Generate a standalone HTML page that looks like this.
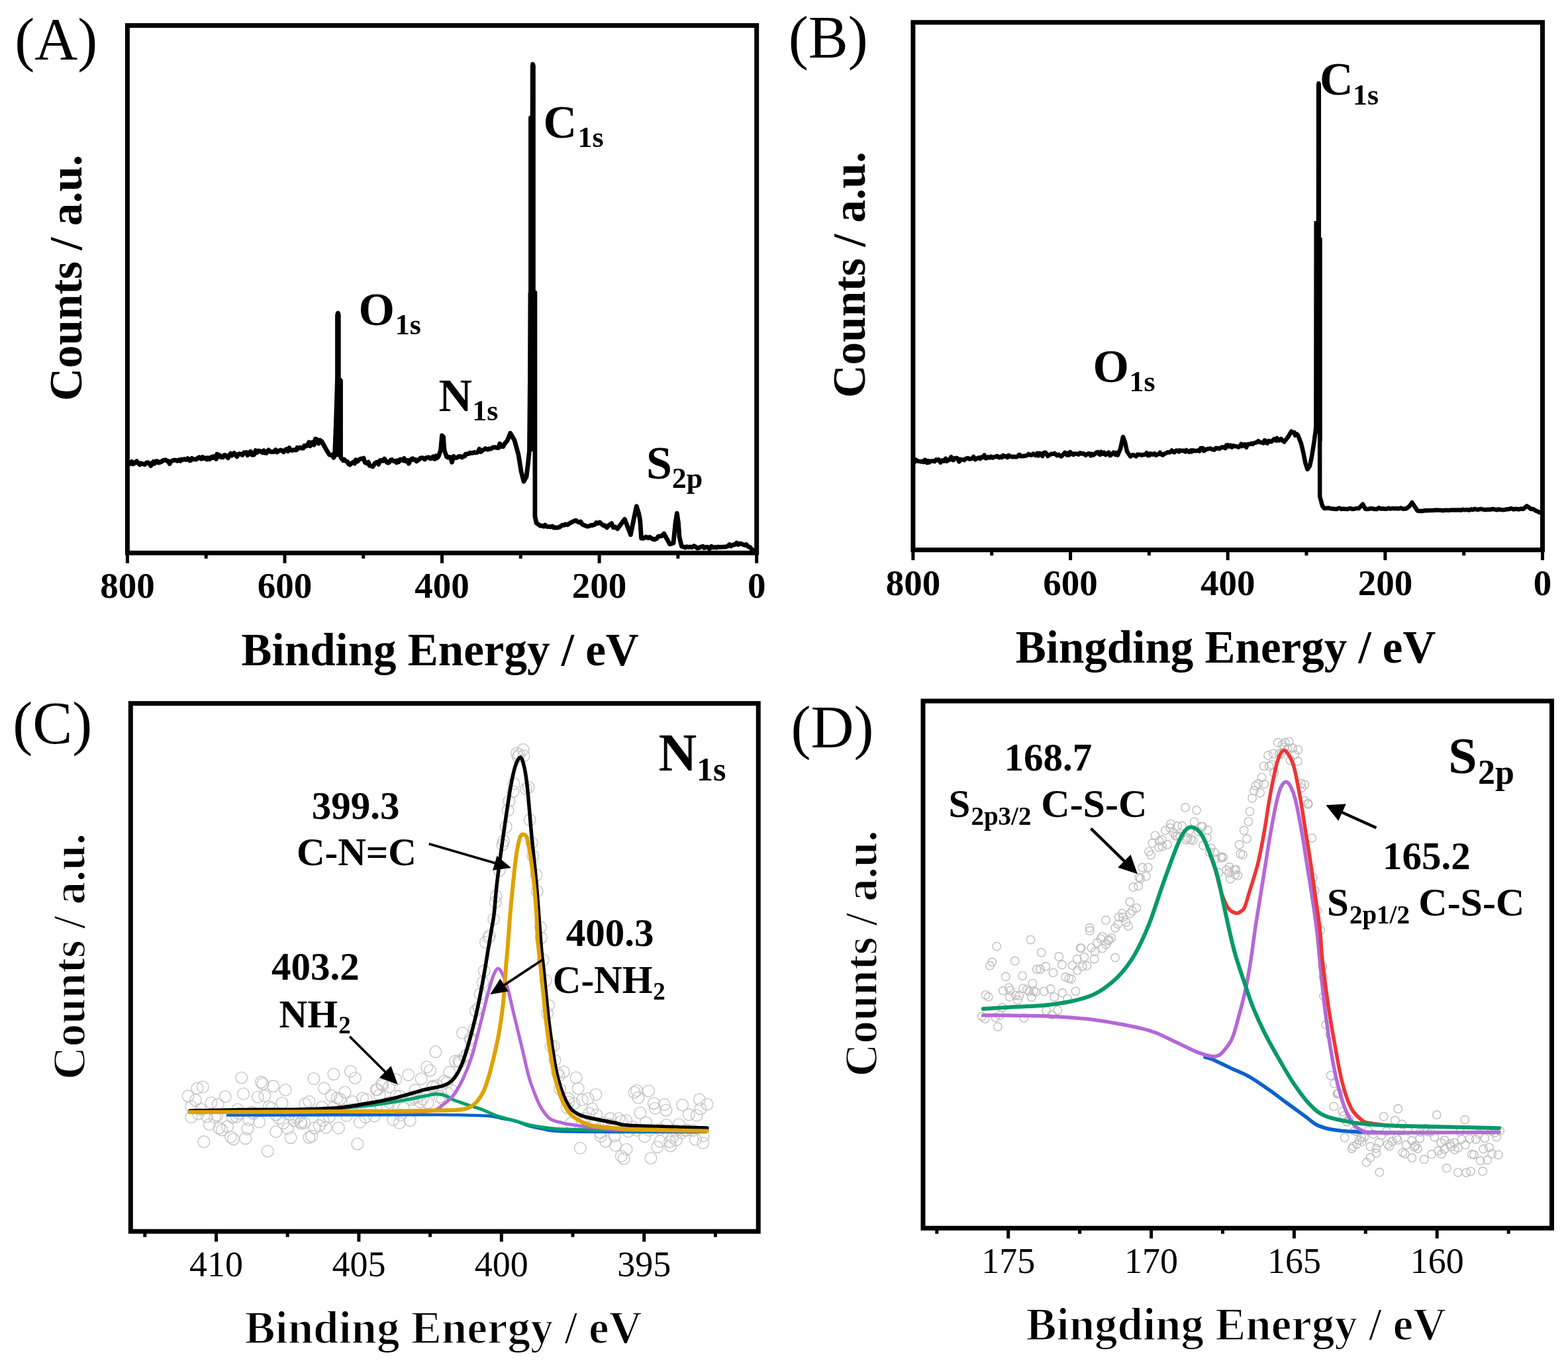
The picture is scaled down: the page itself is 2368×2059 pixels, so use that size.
<!DOCTYPE html>
<html><head><meta charset="utf-8"><title>XPS spectra</title>
<style>html,body{margin:0;padding:0;background:#fff;}svg{display:block;}</style></head>
<body><svg xmlns="http://www.w3.org/2000/svg" width="2368" height="2059" viewBox="0 0 2368 2059" font-family="Liberation Serif, Times New Roman, serif" fill="#000">
<rect width="2368" height="2059" fill="#fff"/>
<rect x="192.4" y="38.5" width="950.3" height="796.8" fill="none" stroke="#000" stroke-width="7"/>
<line x1="192.4" y1="835.3" x2="192.4" y2="850.8" stroke="#000" stroke-width="5"/>
<line x1="430.0" y1="835.3" x2="430.0" y2="850.8" stroke="#000" stroke-width="5"/>
<line x1="667.5" y1="835.3" x2="667.5" y2="850.8" stroke="#000" stroke-width="5"/>
<line x1="905.1" y1="835.3" x2="905.1" y2="850.8" stroke="#000" stroke-width="5"/>
<line x1="1142.7" y1="835.3" x2="1142.7" y2="850.8" stroke="#000" stroke-width="5"/>
<line x1="311.2" y1="835.3" x2="311.2" y2="843.8" stroke="#000" stroke-width="5"/>
<line x1="548.8" y1="835.3" x2="548.8" y2="843.8" stroke="#000" stroke-width="5"/>
<line x1="786.3" y1="835.3" x2="786.3" y2="843.8" stroke="#000" stroke-width="5"/>
<line x1="1023.9" y1="835.3" x2="1023.9" y2="843.8" stroke="#000" stroke-width="5"/>
<text x="192.4" y="903.0" font-size="55" font-weight="bold" text-anchor="middle" >800</text>
<text x="430.0" y="903.0" font-size="55" font-weight="bold" text-anchor="middle" >600</text>
<text x="667.5" y="903.0" font-size="55" font-weight="bold" text-anchor="middle" >400</text>
<text x="905.1" y="903.0" font-size="55" font-weight="bold" text-anchor="middle" >200</text>
<text x="1142.7" y="903.0" font-size="55" font-weight="bold" text-anchor="middle" >0</text>
<text x="22.3" y="89.5" font-size="90" font-weight="normal" text-anchor="start" >(A)</text>
<text transform="translate(123.2,605.8) rotate(-90)" font-size="69" font-weight="bold">Counts / a.u.</text>
<text x="364.6" y="1004.9" font-size="69" font-weight="bold" text-anchor="start" >Binding Energy / eV</text>
<text x="820.4" y="207.5" font-size="70" font-weight="bold" text-anchor="start" >C</text>
<text x="872.4" y="222.3" font-size="44" font-weight="bold" text-anchor="start" >1s</text>
<text x="541.4" y="491.0" font-size="70" font-weight="bold" text-anchor="start" >O</text>
<text x="596.7" y="505.4" font-size="44" font-weight="bold" text-anchor="start" >1s</text>
<text x="662.6" y="621.2" font-size="70" font-weight="bold" text-anchor="start" >N</text>
<text x="713.2" y="635.4" font-size="44" font-weight="bold" text-anchor="start" >1s</text>
<text x="976.0" y="723.0" font-size="70" font-weight="bold" text-anchor="start" >S</text>
<text x="1014.7" y="737.4" font-size="44" font-weight="bold" text-anchor="start" >2p</text>
<path d="M194.5,701.0 L196.7,700.7 L199.1,697.3 L200.9,700.9 L202.7,700.1 L205.3,697.7 L206.4,696.7 L208.8,699.9 L211.0,702.0 L212.4,699.8 L215.5,700.8 L217.4,701.0 L218.7,701.8 L221.3,698.9 L223.7,698.7 L225.0,699.6 L227.8,703.6 L229.2,700.4 L231.7,697.4 L233.2,700.5 L236.1,696.6 L238.1,696.9 L239.3,699.0 L241.3,698.6 L243.9,697.6 L245.2,696.0 L247.7,695.1 L250.3,694.8 L252.0,696.3 L254.0,696.3 L256.2,700.8 L257.4,697.7 L260.3,695.9 L262.3,695.2 L263.8,695.2 L265.5,695.1 L267.6,696.3 L270.3,694.6 L272.5,696.4 L273.8,694.0 L276.0,694.6 L278.3,693.4 L280.4,694.5 L282.5,693.6 L283.5,692.5 L286.5,695.9 L287.8,695.7 L289.8,692.3 L291.8,693.6 L293.6,693.8 L296.2,694.1 L297.5,692.8 L300.6,690.8 L301.7,692.1 L304.1,693.3 L305.9,690.3 L307.5,692.5 L310.0,691.7 L312.4,693.9 L314.0,691.6 L316.5,693.7 L318.2,691.4 L319.9,690.1 L321.6,691.7 L323.9,689.3 L326.6,693.5 L327.9,686.0 L330.0,689.7 L331.7,687.6 L333.9,690.7 L336.6,690.9 L338.6,687.6 L339.8,687.4 L341.5,688.3 L344.4,691.9 L345.8,689.1 L348.2,685.0 L350.2,688.1 L352.2,686.0 L353.7,684.4 L356.2,687.7 L357.8,689.8 L360.1,686.1 L361.4,685.4 L364.2,686.2 L366.0,687.5 L368.4,683.7 L369.8,684.1 L372.4,683.4 L373.8,687.7 L376.0,685.4 L378.2,682.0 L380.6,687.2 L382.1,684.2 L383.7,686.9 L386.0,680.6 L388.3,683.6 L389.7,681.0 L392.4,681.3 L394.0,682.2 L396.3,683.8 L398.4,680.5 L399.6,684.1 L402.3,684.5 L403.8,681.5 L405.6,679.9 L408.2,682.3 L409.8,682.6 L412.0,682.3 L413.7,682.7 L416.2,679.5 L418.4,683.0 L420.0,681.1 L422.2,680.8 L424.0,679.8 L426.7,680.9 L428.2,682.8 L429.9,680.6 L432.4,678.5 L434.9,681.7 L436.8,676.4 L438.4,679.2 L440.7,680.4 L442.5,679.9 L444.9,679.8 L447.5,679.9 L448.9,676.3 L451.7,677.3 L453.5,675.9 L455.7,677.1 L458.2,677.0 L459.7,673.2 L462.0,674.0 L463.7,673.4 L466.6,668.1 L468.5,673.7 L470.1,668.9 L472.0,668.0 L474.3,672.0 L476.4,663.0 L478.8,664.0 L481.2,670.0 L483.3,665.0 L486.0,667.0 L492.0,678.0 L497.5,687.0 L499.6,687.5 L501.4,686.9 L503.9,691.3 L505.5,688.5 L507.4,641.0 L509.5,571.0 L509.5,476.0 L510.4,473.0 L511.3,476.0 L511.3,571.6 L514.5,575.0 L514.5,690.0 L516.0,693.2 L518.4,695.6 L519.9,694.2 L521.7,696.5 L524.6,697.2 L526.3,700.7 L528.5,702.0 L531.2,699.5 L533.4,698.0 L535.6,700.2 L537.3,694.8 L540.0,697.0 L542.1,694.5 L545.0,692.9 L547.0,693.0 L549.1,692.0 L551.2,698.7 L554.0,700.0 L556.3,698.1 L558.2,703.5 L561.0,704.0 L563.0,705.0 L566.0,699.9 L567.9,698.8 L570.0,698.0 L571.8,701.4 L574.0,695.4 L576.2,695.6 L578.0,696.3 L580.6,693.0 L581.5,694.5 L583.9,698.1 L586.3,699.3 L588.2,698.0 L589.8,695.0 L591.9,694.4 L594.3,696.6 L596.8,696.7 L598.7,698.9 L599.9,695.8 L602.3,697.6 L604.3,693.9 L606.5,694.6 L609.3,695.9 L610.2,692.4 L612.6,696.6 L615.4,695.2 L617.3,700.3 L619.1,696.5 L621.3,693.5 L623.3,692.6 L625.0,694.7 L627.3,694.2 L629.0,696.9 L630.9,695.5 L633.2,693.9 L634.7,692.3 L636.9,691.6 L639.1,691.9 L641.4,693.9 L643.4,691.7 L646.0,690.9 L647.6,690.9 L649.6,692.7 L651.5,692.7 L654.1,689.8 L656.4,693.3 L658.4,688.7 L659.7,692.1 L662.0,690.0 L665.5,680.0 L667.5,658.0 L669.5,660.0 L671.0,680.0 L674.5,690.0 L676.3,691.2 L678.9,690.3 L680.3,690.9 L682.5,698.2 L685.1,689.3 L687.0,691.6 L689.1,691.6 L690.8,691.0 L692.9,689.3 L694.7,689.3 L697.8,691.0 L699.3,689.6 L702.1,689.0 L703.0,686.1 L705.8,685.7 L707.5,685.7 L709.9,683.9 L712.3,684.5 L713.3,684.4 L716.5,683.2 L718.0,683.9 L720.6,683.5 L722.2,682.3 L723.9,678.4 L726.1,682.5 L728.7,680.6 L729.9,679.7 L733.0,677.5 L734.9,678.4 L736.2,679.1 L738.7,677.9 L741.2,678.1 L742.8,677.2 L744.6,675.8 L746.3,675.7 L749.0,676.0 L751.0,676.5 L753.0,676.5 L754.8,670.2 L757.1,674.3 L759.9,674.6 L761.4,671.4 L763.3,668.9 L766.0,666.0 L770.7,654.3 L777.0,665.2 L783.0,687.0 L787.0,712.0 L791.0,727.3 L795.0,720.0 L797.5,700.0 L799.5,680.0 L801.5,442.0 L801.5,178.0 L804.2,178.0 L804.2,100.0 L804.7,97.0 L805.2,100.0 L805.2,442.0 L807.9,442.0 L807.9,780.0 L810.0,790.0 L815.9,794.3 L818.4,794.2 L821.5,795.3 L823.1,793.1 L825.8,795.5 L828.9,795.6 L831.3,795.9 L834.3,794.9 L836.2,797.2 L839.2,797.0 L841.4,797.2 L844.7,796.3 L846.9,795.0 L849.6,793.1 L851.8,793.4 L853.9,792.0 L857.2,792.8 L859.4,791.0 L861.7,789.7 L864.4,788.5 L867.7,786.6 L869.8,786.2 L872.8,788.4 L874.9,789.1 L876.9,788.1 L879.6,792.3 L882.7,793.6 L885.6,794.8 L887.7,795.2 L889.9,794.7 L892.9,793.4 L894.8,793.5 L898.5,792.2 L900.5,789.6 L902.6,790.7 L905.7,788.9 L908.5,791.6 L911.6,794.2 L913.2,793.7 L916.4,797.0 L919.6,793.4 L923.6,790.7 L926.3,796.9 L929.1,796.0 L932.6,798.8 L943.4,784.4 L952.4,807.8 L958.0,780.0 L961.3,764.7 L964.5,775.0 L966.7,786.2 L968.5,813.1 L971.3,813.4 L973.7,812.2 L975.5,811.0 L978.7,812.8 L981.1,811.3 L985.0,813.9 L988.3,815.0 L991.6,813.7 L994.1,810.4 L997.5,809.9 L999.8,809.6 L1002.6,806.0 L1011.6,822.1 L1014.1,821.4 L1017.0,820.3 L1020.0,790.0 L1022.4,775.4 L1024.5,790.0 L1026.0,811.3 L1029.5,825.5 L1032.1,826.0 L1034.7,827.1 L1037.1,825.9 L1040.3,826.5 L1043.3,826.2 L1045.0,826.8 L1048.1,824.7 L1051.0,826.5 L1053.3,828.1 L1055.7,827.4 L1058.5,826.2 L1061.7,825.4 L1063.4,827.5 L1066.9,826.4 L1069.6,826.7 L1071.3,829.1 L1074.4,825.4 L1076.3,827.0 L1079.4,826.6 L1082.3,827.2 L1084.3,826.1 L1087.5,826.6 L1090.0,826.3 L1092.9,826.1 L1095.9,826.2 L1098.7,825.1 L1101.7,822.6 L1103.8,825.0 L1107.0,823.0 L1110.0,822.8 L1112.5,820.0 L1114.8,822.7 L1118.0,821.0 L1120.6,821.9 L1124.2,823.5 L1127.0,822.5 L1129.7,825.6 L1133.0,827.0 L1135.4,830.0 L1139.0,832.0" fill="none" stroke="#000" stroke-width="6.8" stroke-linejoin="round" stroke-linecap="round" />
<path d="M505,690 L506.5,641 L508,571 L508,474 L512.5,474 L512.5,572 L516,576 L516,690 Z M797.5,682 L797.5,442 L798.3,442 L798.3,178 L800.8,178 L801.2,98 L808.5,98 L808.5,442 L811,442 L811,682 Z" fill="#000"/>
<rect x="1378.9" y="33.8" width="950.6" height="796.9" fill="none" stroke="#000" stroke-width="7"/>
<line x1="1378.9" y1="830.7" x2="1378.9" y2="846.2" stroke="#000" stroke-width="5"/>
<line x1="1616.6" y1="830.7" x2="1616.6" y2="846.2" stroke="#000" stroke-width="5"/>
<line x1="1854.2" y1="830.7" x2="1854.2" y2="846.2" stroke="#000" stroke-width="5"/>
<line x1="2091.9" y1="830.7" x2="2091.9" y2="846.2" stroke="#000" stroke-width="5"/>
<line x1="2329.5" y1="830.7" x2="2329.5" y2="846.2" stroke="#000" stroke-width="5"/>
<line x1="1497.7" y1="830.7" x2="1497.7" y2="839.2" stroke="#000" stroke-width="5"/>
<line x1="1735.4" y1="830.7" x2="1735.4" y2="839.2" stroke="#000" stroke-width="5"/>
<line x1="1973.0" y1="830.7" x2="1973.0" y2="839.2" stroke="#000" stroke-width="5"/>
<line x1="2210.7" y1="830.7" x2="2210.7" y2="839.2" stroke="#000" stroke-width="5"/>
<text x="1378.9" y="898.5" font-size="55" font-weight="bold" text-anchor="middle" >800</text>
<text x="1616.6" y="898.5" font-size="55" font-weight="bold" text-anchor="middle" >600</text>
<text x="1854.2" y="898.5" font-size="55" font-weight="bold" text-anchor="middle" >400</text>
<text x="2091.9" y="898.5" font-size="55" font-weight="bold" text-anchor="middle" >200</text>
<text x="2329.5" y="898.5" font-size="55" font-weight="bold" text-anchor="middle" >0</text>
<text x="1190.8" y="87.0" font-size="90" font-weight="normal" text-anchor="start" >(B)</text>
<text transform="translate(1306.2,601.0) rotate(-90)" font-size="69" font-weight="bold">Counts / a.u.</text>
<text x="1533.8" y="1000.8" font-size="69" font-weight="bold" text-anchor="start" >Bingding Energy / eV</text>
<text x="1992.9" y="143.0" font-size="70" font-weight="bold" text-anchor="start" >C</text>
<text x="2043.1" y="157.7" font-size="44" font-weight="bold" text-anchor="start" >1s</text>
<text x="1650.4" y="576.5" font-size="70" font-weight="bold" text-anchor="start" >O</text>
<text x="1705.4" y="590.5" font-size="44" font-weight="bold" text-anchor="start" >1s</text>
<path d="M1381.3,698.0 L1383.3,694.5 L1385.3,696.4 L1387.4,696.8 L1389.4,697.0 L1391.6,697.6 L1393.2,696.6 L1395.0,698.0 L1397.0,694.7 L1400.1,699.1 L1401.7,696.2 L1403.2,698.6 L1405.1,696.7 L1407.3,696.4 L1409.6,696.6 L1411.6,697.2 L1413.9,694.4 L1415.7,695.0 L1417.5,694.2 L1420.4,698.7 L1422.0,695.4 L1423.6,695.5 L1425.3,696.6 L1428.2,692.6 L1429.8,696.8 L1432.5,694.9 L1433.6,694.7 L1436.5,690.2 L1438.0,694.5 L1439.9,695.2 L1441.6,692.3 L1443.8,692.1 L1445.6,691.9 L1448.5,697.4 L1449.7,693.7 L1451.7,694.3 L1454.6,694.4 L1456.2,695.2 L1458.0,693.1 L1460.5,692.2 L1461.9,692.0 L1464.1,693.4 L1467.0,693.1 L1468.9,691.3 L1470.2,690.0 L1472.7,694.2 L1474.1,693.3 L1476.3,692.0 L1479.0,691.3 L1480.2,693.0 L1482.2,690.6 L1484.9,690.9 L1486.6,687.5 L1488.8,692.4 L1490.9,691.8 L1492.5,690.3 L1495.4,691.4 L1496.6,689.7 L1499.3,691.6 L1501.0,690.5 L1503.6,690.0 L1505.5,689.0 L1506.6,689.2 L1508.6,691.3 L1511.4,689.8 L1512.9,691.0 L1515.0,688.0 L1516.9,689.7 L1519.0,689.2 L1521.4,691.0 L1523.1,687.8 L1525.9,689.6 L1527.1,689.7 L1529.4,690.3 L1531.3,689.7 L1533.6,690.2 L1536.0,690.2 L1538.2,687.7 L1539.7,686.9 L1541.2,689.2 L1544.2,688.9 L1546.0,689.0 L1547.9,688.6 L1549.8,688.4 L1552.4,687.1 L1553.3,685.9 L1556.4,687.6 L1558.2,687.4 L1560.4,685.4 L1561.8,686.7 L1564.0,688.0 L1566.5,684.8 L1568.0,688.6 L1570.2,684.7 L1572.3,686.1 L1574.3,689.0 L1575.7,684.3 L1578.7,683.5 L1580.5,685.4 L1582.4,689.0 L1584.3,687.5 L1586.7,686.5 L1587.8,685.6 L1590.1,685.9 L1592.7,684.7 L1595.0,686.8 L1596.2,688.1 L1598.8,686.7 L1600.2,688.2 L1602.8,689.5 L1604.6,687.5 L1606.9,685.4 L1608.3,683.6 L1611.2,687.4 L1613.2,684.5 L1614.6,687.4 L1616.4,682.9 L1619.3,685.9 L1621.2,687.0 L1622.5,685.3 L1624.9,685.4 L1627.0,685.5 L1628.9,686.6 L1631.2,684.1 L1633.5,685.5 L1635.7,684.8 L1636.6,685.6 L1639.7,687.8 L1641.4,686.0 L1643.1,685.4 L1644.9,685.0 L1647.3,688.3 L1649.1,685.8 L1651.0,687.4 L1653.4,685.9 L1655.7,683.6 L1658.1,682.8 L1659.8,685.8 L1661.3,686.9 L1663.1,682.7 L1665.3,685.6 L1667.5,683.7 L1669.8,687.1 L1672.0,685.1 L1674.2,683.5 L1676.4,688.2 L1678.2,687.0 L1680.0,685.0 L1681.6,683.5 L1684.5,686.9 L1685.9,683.9 L1688.0,687.5 L1692.0,678.0 L1696.0,660.0 L1699.0,668.0 L1702.0,682.0 L1707.2,689.5 L1709.2,687.9 L1710.9,687.0 L1712.9,687.8 L1715.9,689.3 L1717.8,686.5 L1719.9,686.7 L1721.3,686.7 L1724.3,687.7 L1725.4,687.3 L1728.0,686.8 L1730.2,686.1 L1731.8,684.0 L1733.4,688.2 L1735.5,688.0 L1737.5,685.2 L1740.6,686.8 L1741.9,685.7 L1743.6,685.0 L1745.6,687.8 L1748.2,686.5 L1750.4,685.8 L1751.9,683.5 L1754.0,686.3 L1755.9,687.7 L1758.6,685.5 L1760.0,684.9 L1762.6,683.8 L1763.8,683.0 L1766.2,683.6 L1767.7,682.9 L1769.8,680.4 L1772.0,682.7 L1773.4,683.4 L1776.0,680.8 L1777.7,680.6 L1780.3,682.4 L1781.5,680.4 L1784.0,681.0 L1786.2,680.7 L1787.4,680.8 L1790.2,682.4 L1791.5,679.9 L1793.7,681.3 L1796.0,682.8 L1798.5,680.5 L1799.6,682.4 L1801.6,680.3 L1804.3,681.2 L1805.7,680.9 L1808.0,681.0 L1810.3,680.1 L1811.4,681.5 L1813.4,676.9 L1816.6,676.9 L1818.0,681.1 L1820.3,679.7 L1822.4,678.5 L1824.0,678.1 L1826.0,677.9 L1828.5,677.6 L1830.5,678.9 L1832.4,679.1 L1833.7,679.6 L1836.2,676.8 L1838.2,677.5 L1840.0,677.0 L1841.7,678.0 L1844.2,676.1 L1846.5,675.3 L1847.9,675.8 L1850.6,677.1 L1852.1,672.6 L1854.6,672.3 L1856.0,674.5 L1858.3,672.6 L1860.5,675.6 L1862.3,673.2 L1863.8,673.8 L1866.3,674.2 L1868.3,674.4 L1870.5,675.5 L1872.0,674.5 L1874.5,670.8 L1876.0,674.0 L1877.5,671.7 L1879.8,671.3 L1882.2,675.8 L1884.0,671.3 L1886.0,670.9 L1888.0,671.0 L1890.3,669.7 L1891.9,671.0 L1893.8,669.5 L1895.6,668.7 L1897.9,668.2 L1900.3,666.2 L1902.6,668.1 L1904.1,668.3 L1906.1,668.6 L1908.0,669.4 L1909.9,665.1 L1912.2,666.5 L1913.7,669.7 L1916.2,665.9 L1918.4,667.0 L1920.2,667.3 L1922.8,664.6 L1924.3,663.2 L1927.2,665.6 L1928.5,661.9 L1931.3,665.5 L1933.0,664.5 L1934.8,662.9 L1937.1,665.9 L1939.4,667.5 L1946.0,659.0 L1948.3,654.9 L1950.2,651.7 L1952.2,653.5 L1954.4,653.0 L1956.0,657.6 L1958.2,655.7 L1960.2,657.6 L1965.0,670.0 L1968.2,683.3 L1971.5,700.0 L1974.6,708.9 L1978.0,704.0 L1981.0,690.0 L1984.5,668.0 L1987.5,645.0 L1988.0,340.0 L1991.0,334.0 L1991.2,128.0 L1991.5,126.0 L1991.8,128.0 L1991.8,359.0 L1993.2,362.0 L1993.2,750.0 L1997.0,764.0 L2000.0,768.0 L2002.9,767.7 L2006.8,767.3 L2009.3,768.2 L2012.5,768.6 L2016.4,768.9 L2018.9,769.0 L2022.3,767.4 L2025.9,769.0 L2028.4,768.6 L2032.6,769.0 L2035.7,769.1 L2038.9,767.8 L2041.8,768.9 L2045.7,768.7 L2049.0,767.9 L2052.0,768.0 L2055.0,764.9 L2058.0,761.7 L2062.0,768.9 L2067.0,768.9 L2069.9,768.1 L2072.9,768.3 L2075.6,769.0 L2079.5,769.2 L2082.3,767.0 L2085.2,768.6 L2088.4,768.2 L2091.1,768.7 L2094.2,768.8 L2096.9,767.6 L2100.1,768.6 L2102.8,767.9 L2106.0,768.3 L2108.9,768.1 L2112.5,768.4 L2115.9,767.4 L2118.9,768.7 L2120.8,768.7 L2124.4,768.0 L2128.9,764.3 L2132.5,759.0 L2140.6,771.6 L2144.0,771.9 L2147.4,772.0 L2150.7,771.5 L2153.8,771.0 L2156.4,771.2 L2160.4,770.9 L2163.1,771.1 L2166.3,770.7 L2169.5,770.5 L2172.9,770.7 L2175.6,770.8 L2179.2,771.2 L2181.7,770.8 L2185.4,770.7 L2188.6,770.9 L2191.5,770.4 L2194.4,770.5 L2197.3,770.5 L2201.1,770.5 L2203.1,770.3 L2206.7,770.8 L2209.1,769.8 L2213.0,770.4 L2215.0,769.9 L2219.2,770.8 L2221.7,769.3 L2224.5,770.2 L2227.2,768.7 L2231.0,770.0 L2233.5,769.5 L2236.5,768.8 L2239.9,769.6 L2242.6,770.2 L2245.5,769.7 L2248.8,769.8 L2251.4,769.7 L2254.3,768.8 L2258.3,769.8 L2261.1,770.2 L2263.8,769.3 L2266.6,770.0 L2270.5,770.2 L2272.7,770.0 L2275.9,769.2 L2278.7,769.3 L2282.0,768.0 L2285.8,769.6 L2287.7,768.8 L2291.6,769.0 L2294.0,769.6 L2296.8,768.5 L2300.3,768.9 L2305.7,764.4 L2308.4,766.1 L2311.9,768.9 L2315.6,769.0 L2319.3,771.4 L2321.9,772.5 L2325.5,774.3" fill="none" stroke="#000" stroke-width="6.5" stroke-linejoin="round" stroke-linecap="round" />
<path d="M1984.6,645 L1984.6,334 L1988,334 L1988,127 L1994.6,127 L1994.6,359 L1996.6,359 L1996.6,668 Z" fill="#000"/>
<g fill="none" stroke="#c2c2c2" stroke-width="1.3"><circle cx="284.0" cy="1655.8" r="8.8"/><circle cx="288.8" cy="1671.6" r="8.8"/><circle cx="288.8" cy="1687.6" r="8.8"/><circle cx="295.4" cy="1662.0" r="8.8"/><circle cx="297.9" cy="1643.9" r="8.8"/><circle cx="299.6" cy="1682.8" r="8.8"/><circle cx="303.0" cy="1675.7" r="8.8"/><circle cx="306.3" cy="1641.9" r="8.8"/><circle cx="307.8" cy="1724.8" r="8.8"/><circle cx="312.6" cy="1686.8" r="8.8"/><circle cx="316.3" cy="1698.6" r="8.8"/><circle cx="318.9" cy="1665.9" r="8.8"/><circle cx="324.5" cy="1687.9" r="8.8"/><circle cx="327.6" cy="1684.7" r="8.8"/><circle cx="329.2" cy="1668.2" r="8.8"/><circle cx="331.1" cy="1704.3" r="8.8"/><circle cx="335.3" cy="1707.0" r="8.8"/><circle cx="340.3" cy="1656.5" r="8.8"/><circle cx="343.5" cy="1701.7" r="8.8"/><circle cx="348.4" cy="1717.6" r="8.8"/><circle cx="350.9" cy="1687.8" r="8.8"/><circle cx="352.5" cy="1720.7" r="8.8"/><circle cx="357.2" cy="1687.0" r="8.8"/><circle cx="359.0" cy="1676.0" r="8.8"/><circle cx="361.1" cy="1682.3" r="8.8"/><circle cx="364.8" cy="1628.1" r="8.8"/><circle cx="367.6" cy="1652.4" r="8.8"/><circle cx="370.7" cy="1719.7" r="8.8"/><circle cx="373.9" cy="1705.2" r="8.8"/><circle cx="375.8" cy="1691.5" r="8.8"/><circle cx="380.5" cy="1680.3" r="8.8"/><circle cx="383.1" cy="1682.3" r="8.8"/><circle cx="389.3" cy="1657.2" r="8.8"/><circle cx="391.5" cy="1694.9" r="8.8"/><circle cx="394.5" cy="1634.8" r="8.8"/><circle cx="397.1" cy="1637.2" r="8.8"/><circle cx="399.9" cy="1655.4" r="8.8"/><circle cx="404.3" cy="1739.1" r="8.8"/><circle cx="406.1" cy="1672.0" r="8.8"/><circle cx="410.3" cy="1673.9" r="8.8"/><circle cx="412.7" cy="1640.8" r="8.8"/><circle cx="415.9" cy="1683.8" r="8.8"/><circle cx="416.7" cy="1709.6" r="8.8"/><circle cx="421.6" cy="1689.6" r="8.8"/><circle cx="426.0" cy="1666.4" r="8.8"/><circle cx="427.9" cy="1696.8" r="8.8"/><circle cx="431.0" cy="1646.5" r="8.8"/><circle cx="434.4" cy="1704.9" r="8.8"/><circle cx="436.9" cy="1683.5" r="8.8"/><circle cx="439.1" cy="1718.7" r="8.8"/><circle cx="444.2" cy="1693.0" r="8.8"/><circle cx="447.6" cy="1688.7" r="8.8"/><circle cx="450.8" cy="1686.6" r="8.8"/><circle cx="454.3" cy="1694.9" r="8.8"/><circle cx="454.7" cy="1697.1" r="8.8"/><circle cx="459.7" cy="1696.0" r="8.8"/><circle cx="460.9" cy="1667.7" r="8.8"/><circle cx="466.8" cy="1718.2" r="8.8"/><circle cx="467.0" cy="1664.1" r="8.8"/><circle cx="470.6" cy="1716.3" r="8.8"/><circle cx="473.9" cy="1629.5" r="8.8"/><circle cx="474.8" cy="1704.0" r="8.8"/><circle cx="482.2" cy="1700.3" r="8.8"/><circle cx="486.3" cy="1672.5" r="8.8"/><circle cx="488.2" cy="1692.8" r="8.8"/><circle cx="489.6" cy="1644.0" r="8.8"/><circle cx="492.2" cy="1703.3" r="8.8"/><circle cx="497.4" cy="1687.3" r="8.8"/><circle cx="500.1" cy="1655.1" r="8.8"/><circle cx="503.9" cy="1622.7" r="8.8"/><circle cx="503.7" cy="1673.2" r="8.8"/><circle cx="509.1" cy="1658.8" r="8.8"/><circle cx="511.3" cy="1703.9" r="8.8"/><circle cx="513.5" cy="1660.5" r="8.8"/><circle cx="518.2" cy="1676.8" r="8.8"/><circle cx="521.0" cy="1650.0" r="8.8"/><circle cx="523.3" cy="1685.4" r="8.8"/><circle cx="529.5" cy="1618.5" r="8.8"/><circle cx="531.1" cy="1675.4" r="8.8"/><circle cx="532.4" cy="1664.2" r="8.8"/><circle cx="536.2" cy="1628.6" r="8.8"/><circle cx="537.0" cy="1676.3" r="8.8"/><circle cx="539.8" cy="1728.0" r="8.8"/><circle cx="543.4" cy="1695.4" r="8.8"/><circle cx="547.5" cy="1659.0" r="8.8"/><circle cx="552.0" cy="1687.8" r="8.8"/><circle cx="553.3" cy="1661.0" r="8.8"/><circle cx="558.7" cy="1677.1" r="8.8"/><circle cx="559.1" cy="1675.7" r="8.8"/><circle cx="565.2" cy="1685.9" r="8.8"/><circle cx="568.2" cy="1646.1" r="8.8"/><circle cx="569.9" cy="1646.0" r="8.8"/><circle cx="573.1" cy="1653.9" r="8.8"/><circle cx="576.3" cy="1637.5" r="8.8"/><circle cx="577.9" cy="1639.3" r="8.8"/><circle cx="585.2" cy="1672.6" r="8.8"/><circle cx="588.0" cy="1665.3" r="8.8"/><circle cx="588.0" cy="1641.8" r="8.8"/><circle cx="593.8" cy="1691.5" r="8.8"/><circle cx="597.5" cy="1630.8" r="8.8"/><circle cx="598.2" cy="1655.6" r="8.8"/><circle cx="603.5" cy="1655.7" r="8.8"/><circle cx="603.1" cy="1696.4" r="8.8"/><circle cx="605.5" cy="1684.5" r="8.8"/><circle cx="609.6" cy="1674.5" r="8.8"/><circle cx="616.6" cy="1623.7" r="8.8"/><circle cx="619.3" cy="1692.5" r="8.8"/><circle cx="622.1" cy="1661.0" r="8.8"/><circle cx="624.7" cy="1658.8" r="8.8"/><circle cx="626.9" cy="1646.8" r="8.8"/><circle cx="629.3" cy="1657.0" r="8.8"/><circle cx="634.7" cy="1664.7" r="8.8"/><circle cx="636.1" cy="1629.7" r="8.8"/><circle cx="638.0" cy="1660.1" r="8.8"/><circle cx="644.7" cy="1611.9" r="8.8"/><circle cx="646.1" cy="1666.0" r="8.8"/><circle cx="649.6" cy="1617.1" r="8.8"/><circle cx="653.9" cy="1640.8" r="8.8"/><circle cx="653.3" cy="1642.6" r="8.8"/><circle cx="657.8" cy="1589.0" r="8.8"/><circle cx="660.3" cy="1640.0" r="8.8"/><circle cx="664.1" cy="1656.9" r="8.8"/><circle cx="668.3" cy="1659.7" r="8.8"/><circle cx="670.7" cy="1633.3" r="8.8"/><circle cx="675.2" cy="1634.9" r="8.8"/><circle cx="677.1" cy="1651.9" r="8.8"/><circle cx="678.8" cy="1619.8" r="8.8"/><circle cx="682.3" cy="1647.3" r="8.8"/><circle cx="687.6" cy="1603.0" r="8.8"/><circle cx="692.7" cy="1602.8" r="8.8"/><circle cx="694.6" cy="1604.3" r="8.8"/><circle cx="698.6" cy="1560.5" r="8.8"/><circle cx="701.5" cy="1596.1" r="8.8"/><circle cx="705.8" cy="1593.0" r="8.8"/><circle cx="710.5" cy="1571.4" r="8.8"/><circle cx="710.5" cy="1568.2" r="8.8"/><circle cx="716.7" cy="1554.4" r="8.8"/><circle cx="718.3" cy="1527.0" r="8.8"/><circle cx="723.0" cy="1522.3" r="8.8"/><circle cx="725.0" cy="1501.8" r="8.8"/><circle cx="729.0" cy="1483.9" r="8.8"/><circle cx="731.3" cy="1466.8" r="8.8"/><circle cx="733.5" cy="1423.6" r="8.8"/><circle cx="737.8" cy="1416.4" r="8.8"/><circle cx="739.3" cy="1413.7" r="8.8"/><circle cx="745.6" cy="1388.6" r="8.8"/><circle cx="748.2" cy="1362.9" r="8.8"/><circle cx="749.2" cy="1354.0" r="8.8"/><circle cx="754.1" cy="1315.2" r="8.8"/><circle cx="758.9" cy="1276.2" r="8.8"/><circle cx="760.6" cy="1270.2" r="8.8"/><circle cx="764.3" cy="1249.3" r="8.8"/><circle cx="767.1" cy="1224.3" r="8.8"/><circle cx="768.9" cy="1210.3" r="8.8"/><circle cx="774.7" cy="1196.0" r="8.8"/><circle cx="775.9" cy="1183.9" r="8.8"/><circle cx="780.5" cy="1138.0" r="8.8"/><circle cx="782.4" cy="1143.0" r="8.8"/><circle cx="784.1" cy="1139.9" r="8.8"/><circle cx="790.0" cy="1132.5" r="8.8"/><circle cx="791.0" cy="1141.7" r="8.8"/><circle cx="794.3" cy="1191.9" r="8.8"/><circle cx="798.1" cy="1189.5" r="8.8"/><circle cx="800.2" cy="1238.5" r="8.8"/><circle cx="803.0" cy="1273.3" r="8.8"/><circle cx="804.8" cy="1292.9" r="8.8"/><circle cx="810.0" cy="1321.7" r="8.8"/><circle cx="811.1" cy="1346.2" r="8.8"/><circle cx="816.3" cy="1400.8" r="8.8"/><circle cx="817.2" cy="1416.8" r="8.8"/><circle cx="820.3" cy="1450.2" r="8.8"/><circle cx="824.1" cy="1481.1" r="8.8"/><circle cx="826.5" cy="1530.7" r="8.8"/><circle cx="828.5" cy="1519.0" r="8.8"/><circle cx="832.1" cy="1580.6" r="8.8"/><circle cx="835.8" cy="1580.3" r="8.8"/><circle cx="837.9" cy="1601.6" r="8.8"/><circle cx="841.7" cy="1621.1" r="8.8"/><circle cx="844.3" cy="1624.9" r="8.8"/><circle cx="845.6" cy="1645.2" r="8.8"/><circle cx="851.2" cy="1619.1" r="8.8"/><circle cx="856.1" cy="1673.2" r="8.8"/><circle cx="858.2" cy="1659.3" r="8.8"/><circle cx="858.9" cy="1665.1" r="8.8"/><circle cx="862.5" cy="1697.0" r="8.8"/><circle cx="866.9" cy="1667.0" r="8.8"/><circle cx="870.1" cy="1628.0" r="8.8"/><circle cx="873.2" cy="1644.3" r="8.8"/><circle cx="876.3" cy="1734.4" r="8.8"/><circle cx="879.2" cy="1661.6" r="8.8"/><circle cx="879.7" cy="1696.8" r="8.8"/><circle cx="882.5" cy="1689.8" r="8.8"/><circle cx="887.8" cy="1659.4" r="8.8"/><circle cx="889.7" cy="1681.8" r="8.8"/><circle cx="894.6" cy="1674.9" r="8.8"/><circle cx="898.2" cy="1700.3" r="8.8"/><circle cx="899.8" cy="1653.5" r="8.8"/><circle cx="901.0" cy="1684.2" r="8.8"/><circle cx="906.7" cy="1711.0" r="8.8"/><circle cx="907.1" cy="1716.6" r="8.8"/><circle cx="910.5" cy="1696.0" r="8.8"/><circle cx="912.0" cy="1699.0" r="8.8"/><circle cx="914.7" cy="1724.1" r="8.8"/><circle cx="920.3" cy="1698.8" r="8.8"/><circle cx="921.5" cy="1689.8" r="8.8"/><circle cx="924.7" cy="1699.7" r="8.8"/><circle cx="928.1" cy="1716.2" r="8.8"/><circle cx="929.6" cy="1730.4" r="8.8"/><circle cx="934.4" cy="1689.6" r="8.8"/><circle cx="938.3" cy="1746.6" r="8.8"/><circle cx="938.4" cy="1693.4" r="8.8"/><circle cx="942.2" cy="1750.3" r="8.8"/><circle cx="946.0" cy="1736.4" r="8.8"/><circle cx="945.7" cy="1692.6" r="8.8"/><circle cx="948.7" cy="1709.0" r="8.8"/><circle cx="955.0" cy="1702.2" r="8.8"/><circle cx="958.0" cy="1650.2" r="8.8"/><circle cx="961.7" cy="1707.6" r="8.8"/><circle cx="961.5" cy="1647.4" r="8.8"/><circle cx="963.9" cy="1658.3" r="8.8"/><circle cx="966.9" cy="1681.2" r="8.8"/><circle cx="973.6" cy="1716.9" r="8.8"/><circle cx="975.5" cy="1695.6" r="8.8"/><circle cx="979.5" cy="1648.1" r="8.8"/><circle cx="980.3" cy="1707.5" r="8.8"/><circle cx="982.9" cy="1749.6" r="8.8"/><circle cx="987.3" cy="1666.7" r="8.8"/><circle cx="989.3" cy="1674.4" r="8.8"/><circle cx="992.8" cy="1732.7" r="8.8"/><circle cx="996.2" cy="1706.3" r="8.8"/><circle cx="996.9" cy="1724.2" r="8.8"/><circle cx="1003.2" cy="1668.7" r="8.8"/><circle cx="1006.4" cy="1699.4" r="8.8"/><circle cx="1006.0" cy="1677.1" r="8.8"/><circle cx="1012.6" cy="1731.0" r="8.8"/><circle cx="1011.5" cy="1724.7" r="8.8"/><circle cx="1015.6" cy="1717.9" r="8.8"/><circle cx="1020.4" cy="1707.5" r="8.8"/><circle cx="1021.3" cy="1722.0" r="8.8"/><circle cx="1025.3" cy="1698.7" r="8.8"/><circle cx="1029.6" cy="1711.2" r="8.8"/><circle cx="1030.6" cy="1669.3" r="8.8"/><circle cx="1035.6" cy="1707.7" r="8.8"/><circle cx="1037.0" cy="1707.1" r="8.8"/><circle cx="1040.4" cy="1683.8" r="8.8"/><circle cx="1046.2" cy="1707.7" r="8.8"/><circle cx="1050.2" cy="1721.3" r="8.8"/><circle cx="1052.2" cy="1684.9" r="8.8"/><circle cx="1056.3" cy="1661.0" r="8.8"/><circle cx="1057.8" cy="1675.0" r="8.8"/><circle cx="1061.6" cy="1726.6" r="8.8"/><circle cx="1062.1" cy="1715.9" r="8.8"/><circle cx="1068.0" cy="1668.2" r="8.8"/></g>
<rect x="197.3" y="1062.6" width="947.9" height="797.6" fill="none" stroke="#000" stroke-width="7"/>
<line x1="326.5" y1="1860.2" x2="326.5" y2="1875.7" stroke="#000" stroke-width="5"/>
<line x1="541.9" y1="1860.2" x2="541.9" y2="1875.7" stroke="#000" stroke-width="5"/>
<line x1="757.3" y1="1860.2" x2="757.3" y2="1875.7" stroke="#000" stroke-width="5"/>
<line x1="972.7" y1="1860.2" x2="972.7" y2="1875.7" stroke="#000" stroke-width="5"/>
<line x1="218.8" y1="1860.2" x2="218.8" y2="1868.7" stroke="#000" stroke-width="5"/>
<line x1="434.2" y1="1860.2" x2="434.2" y2="1868.7" stroke="#000" stroke-width="5"/>
<line x1="649.6" y1="1860.2" x2="649.6" y2="1868.7" stroke="#000" stroke-width="5"/>
<line x1="865.0" y1="1860.2" x2="865.0" y2="1868.7" stroke="#000" stroke-width="5"/>
<line x1="1080.4" y1="1860.2" x2="1080.4" y2="1868.7" stroke="#000" stroke-width="5"/>
<text x="326.5" y="1927.5" font-size="54" font-weight="normal" text-anchor="middle" >410</text>
<text x="541.9" y="1927.5" font-size="54" font-weight="normal" text-anchor="middle" >405</text>
<text x="757.3" y="1927.5" font-size="54" font-weight="normal" text-anchor="middle" >400</text>
<text x="972.7" y="1927.5" font-size="54" font-weight="normal" text-anchor="middle" >395</text>
<text x="19.3" y="1122.5" font-size="90" font-weight="normal" text-anchor="start" >(C)</text>
<text transform="translate(127.9,1631) rotate(-90)" font-size="69" font-weight="bold" stroke="#fff" stroke-width="1.6">Counts / a.u.</text>
<text x="369.5" y="2028.8" font-size="69" font-weight="bold" text-anchor="start" stroke="#fff" stroke-width="1.6">Binding Energy / eV</text>
<path d="M344.0,1684.5 C370.0,1684.5 447.6,1684.4 500.0,1684.3 C552.4,1684.2 625.1,1684.0 658.4,1684.0 C691.7,1684.0 686.4,1684.2 700.0,1684.5 C713.6,1684.8 730.0,1685.1 740.0,1686.0 C750.0,1686.9 753.3,1688.7 760.0,1690.0 C766.7,1691.3 774.0,1692.2 780.2,1694.0 C786.4,1695.8 790.8,1698.6 797.4,1700.5 C804.0,1702.4 812.3,1704.1 820.0,1705.5 C827.7,1706.9 822.0,1708.2 843.7,1709.0 C865.4,1709.8 913.0,1709.8 950.0,1710.0 C987.0,1710.2 1046.7,1710.0 1066.0,1710.0" fill="none" stroke="#0a62cc" stroke-width="4.5" stroke-linejoin="round" stroke-linecap="round" />
<path d="M300.0,1680.0 C316.7,1679.9 371.2,1679.8 400.0,1679.5 C428.8,1679.2 454.7,1678.8 473.0,1678.0 C491.3,1677.2 494.6,1676.0 510.0,1674.5 C525.5,1673.0 549.0,1671.1 565.7,1669.0 C582.4,1666.9 597.6,1664.2 610.0,1662.0 C622.4,1659.8 631.9,1657.5 640.0,1656.0 C648.1,1654.5 653.4,1653.0 658.7,1652.8 C664.0,1652.6 667.6,1653.5 672.0,1655.0 C676.4,1656.5 679.4,1659.2 684.9,1661.5 C690.4,1663.8 697.2,1665.9 704.7,1668.5 C712.2,1671.1 722.3,1674.1 730.0,1677.0 C737.7,1679.9 743.5,1683.2 751.0,1685.8 C758.5,1688.4 767.3,1690.3 775.0,1692.5 C782.7,1694.7 789.9,1697.2 797.4,1699.0 C804.9,1700.8 812.3,1701.9 820.0,1703.0 C827.7,1704.1 830.4,1704.8 843.7,1705.5 C857.0,1706.2 882.3,1706.6 900.0,1707.0 C917.7,1707.4 922.3,1707.7 950.0,1708.0 C977.7,1708.3 1046.7,1708.8 1066.0,1709.0" fill="none" stroke="#05a06c" stroke-width="5" stroke-linejoin="round" stroke-linecap="round" />
<path d="M600.0,1680.5 C606.7,1680.3 630.3,1680.2 640.0,1679.5 C649.7,1678.8 653.4,1678.5 658.4,1676.6 C663.4,1674.7 665.8,1671.4 670.0,1668.0 C674.2,1664.6 678.6,1662.4 683.4,1656.3 C688.1,1650.2 693.8,1641.0 698.5,1631.2 C703.2,1621.4 707.4,1611.7 711.9,1597.7 C716.4,1583.8 721.0,1564.2 725.3,1547.5 C729.6,1530.8 734.6,1509.5 737.9,1497.2 C741.2,1485.0 742.6,1479.7 745.0,1474.0 C747.4,1468.3 749.7,1463.3 752.0,1463.0 C754.3,1462.7 756.5,1466.9 759.0,1472.0 C761.5,1477.1 764.2,1484.3 766.8,1493.5 C769.4,1502.7 772.1,1515.8 774.8,1527.0 C777.5,1538.2 780.2,1549.2 782.9,1560.4 C785.6,1571.6 788.2,1582.7 790.9,1593.9 C793.6,1605.1 796.0,1617.4 798.9,1627.4 C801.8,1637.5 805.2,1646.4 808.3,1654.2 C811.4,1662.0 813.9,1668.3 817.7,1674.3 C821.5,1680.3 826.1,1686.7 831.0,1690.3 C835.9,1693.9 842.3,1694.3 847.1,1695.7 C851.9,1697.1 850.9,1697.1 860.0,1698.5 C869.1,1699.9 887.7,1702.6 902.0,1704.0 C916.3,1705.4 918.7,1706.2 946.0,1707.0 C973.3,1707.8 1046.0,1708.7 1066.0,1709.0" fill="none" stroke="#b468d8" stroke-width="5" stroke-linejoin="round" stroke-linecap="round" />
<path d="M287.0,1678.0 C300.2,1677.8 339.3,1676.8 366.5,1676.5 C393.7,1676.2 426.1,1676.5 450.0,1676.0 C473.9,1675.5 492.7,1675.0 510.0,1673.5 C527.3,1672.0 539.2,1669.5 553.8,1667.0 C568.4,1664.5 582.9,1661.8 597.5,1658.3 C612.1,1654.8 629.2,1649.2 641.2,1646.2 C653.2,1643.2 662.4,1642.6 669.6,1640.0 C676.8,1637.4 679.9,1635.7 684.5,1630.5 C689.1,1625.3 693.2,1617.9 697.0,1609.0 C700.8,1600.1 703.8,1590.0 707.5,1577.0 C711.2,1564.0 715.8,1546.8 719.5,1530.7 C723.2,1514.6 726.4,1497.2 729.5,1480.5 C732.6,1463.8 735.8,1442.7 737.9,1430.2 C740.0,1417.7 740.6,1414.1 742.0,1405.7 C743.4,1397.3 744.8,1391.9 746.2,1380.0 C747.6,1368.1 748.2,1353.8 750.5,1334.3 C752.8,1314.8 756.6,1286.7 760.0,1262.9 C763.4,1239.1 767.7,1208.9 770.7,1191.4 C773.7,1173.9 775.5,1165.9 778.0,1158.0 C780.5,1150.1 783.6,1143.7 785.9,1144.0 C788.2,1144.3 790.2,1152.1 792.0,1160.0 C793.8,1167.9 794.8,1174.2 796.6,1191.4 C798.4,1208.6 800.7,1239.1 802.9,1262.9 C805.1,1286.7 807.9,1310.5 810.0,1334.3 C812.1,1358.1 814.1,1388.4 815.4,1405.7 C816.7,1423.0 817.1,1428.9 818.0,1437.9 C818.9,1447.0 819.4,1449.7 820.5,1460.0 C821.6,1470.3 823.2,1486.7 824.5,1500.0 C825.8,1513.3 826.9,1526.5 828.5,1540.0 C830.1,1553.5 832.0,1567.5 834.0,1580.8 C836.0,1594.1 837.8,1608.1 840.5,1620.0 C843.2,1631.9 846.6,1643.1 850.0,1652.0 C853.4,1660.9 857.2,1668.3 861.0,1673.5 C864.8,1678.7 868.6,1680.6 873.0,1683.0 C877.4,1685.4 877.6,1685.7 887.3,1688.0 C897.0,1690.3 921.3,1694.8 931.0,1696.8 C940.7,1698.8 934.1,1698.8 945.6,1699.7 C957.1,1700.6 979.6,1701.3 1000.0,1702.0 C1020.4,1702.7 1056.5,1703.7 1067.8,1704.0" fill="none" stroke="#000" stroke-width="5.5" stroke-linejoin="round" stroke-linecap="round" />
<path d="M286.2,1680.0 C305.2,1679.9 364.4,1679.7 400.0,1679.5 C435.6,1679.3 466.7,1679.2 500.0,1679.0 C533.3,1678.8 573.3,1678.8 600.0,1678.5 C626.7,1678.2 645.0,1677.8 660.0,1677.5 C675.0,1677.2 682.8,1677.2 690.0,1676.8 C697.2,1676.4 699.2,1676.0 703.0,1675.0 C706.8,1674.0 709.8,1672.7 713.0,1670.5 C716.2,1668.3 719.2,1665.6 722.0,1662.0 C724.8,1658.4 727.5,1654.3 730.0,1649.0 C732.5,1643.7 734.8,1636.8 737.0,1630.0 C739.2,1623.2 741.1,1615.5 743.0,1608.0 C744.9,1600.5 746.5,1594.0 748.5,1585.0 C750.5,1576.0 752.8,1565.6 754.7,1553.7 C756.6,1541.8 758.5,1529.2 760.1,1513.6 C761.7,1498.0 763.0,1473.9 764.1,1460.0 C765.2,1446.1 765.6,1444.2 766.8,1430.0 C767.9,1415.8 769.0,1396.9 771.0,1375.0 C773.0,1353.1 776.5,1316.8 778.8,1298.6 C781.1,1280.4 783.1,1272.3 785.0,1266.0 C786.9,1259.7 788.6,1260.5 790.4,1260.5 C792.2,1260.5 794.2,1260.6 796.0,1266.0 C797.8,1271.4 799.2,1281.5 801.0,1293.0 C802.8,1304.5 805.0,1320.5 806.5,1335.0 C808.0,1349.5 809.2,1365.8 810.1,1380.0 C811.0,1394.2 811.1,1406.9 812.1,1420.2 C813.1,1433.5 814.9,1446.7 816.3,1460.0 C817.7,1473.3 819.0,1486.8 820.4,1500.2 C821.8,1513.6 822.8,1527.0 824.4,1540.4 C826.0,1553.8 827.7,1567.1 829.7,1580.5 C831.7,1593.9 833.7,1608.4 836.4,1620.7 C839.1,1633.0 842.7,1645.3 845.8,1654.2 C848.9,1663.1 851.8,1668.8 855.2,1674.3 C858.6,1679.8 860.6,1683.0 866.0,1687.0 C871.4,1691.0 880.0,1695.7 887.3,1698.3 C894.6,1700.9 900.3,1701.3 910.0,1702.5 C919.7,1703.7 930.6,1704.8 945.6,1705.6 C960.6,1706.3 979.6,1706.5 1000.0,1707.0 C1020.4,1707.5 1056.5,1708.2 1067.8,1708.5" fill="none" stroke="#dea200" stroke-width="6" stroke-linejoin="round" stroke-linecap="round" />
<text x="994.6" y="1163.5" font-size="80" font-weight="bold" text-anchor="start" >N</text>
<text x="1052.0" y="1179.1" font-size="50" font-weight="bold" text-anchor="start" >1s</text>
<text x="470.8" y="1236.5" font-size="59" font-weight="bold" text-anchor="start" >399.3</text>
<text x="447.9" y="1307.4" font-size="59" font-weight="bold" text-anchor="start" >C-N=C</text>
<text x="854.7" y="1429.0" font-size="59" font-weight="bold" text-anchor="start" >400.3</text>
<text x="834.8" y="1500.3" font-size="59" font-weight="bold" text-anchor="start" >C-NH</text>
<text x="986.2" y="1510.0" font-size="37" font-weight="bold" text-anchor="start" >2</text>
<text x="409.9" y="1479.8" font-size="59" font-weight="bold" text-anchor="start" >403.2</text>
<text x="421.6" y="1552.3" font-size="59" font-weight="bold" text-anchor="start" >NH</text>
<text x="511.2" y="1561.0" font-size="37" font-weight="bold" text-anchor="start" >2</text>
<line x1="647.8" y1="1274.8" x2="749.2" y2="1304.3" stroke="#000" stroke-width="3.6"/>
<polygon points="772.0,1310.9 744.1,1314.8 750.5,1292.7" fill="#000"/>
<line x1="819.9" y1="1449.6" x2="760.0" y2="1489.1" stroke="#000" stroke-width="3.6"/>
<polygon points="740.0,1502.3 755.4,1478.4 768.0,1497.6" fill="#000"/>
<line x1="528.1" y1="1565.7" x2="583.1" y2="1620.5" stroke="#000" stroke-width="3.6"/>
<polygon points="600.8,1638.2 572.9,1628.0 590.5,1610.3" fill="#000"/>
<g fill="none" stroke="#bdbdbd" stroke-width="1.4"><circle cx="1482.9" cy="1535.5" r="6.2"/><circle cx="1488.5" cy="1502.8" r="6.2"/><circle cx="1487.6" cy="1539.1" r="6.2"/><circle cx="1492.7" cy="1505.9" r="6.2"/><circle cx="1495.0" cy="1458.7" r="6.2"/><circle cx="1498.2" cy="1453.4" r="6.2"/><circle cx="1503.3" cy="1537.0" r="6.2"/><circle cx="1505.3" cy="1429.6" r="6.2"/><circle cx="1506.9" cy="1551.0" r="6.2"/><circle cx="1510.0" cy="1533.8" r="6.2"/><circle cx="1513.8" cy="1522.1" r="6.2"/><circle cx="1514.9" cy="1496.7" r="6.2"/><circle cx="1518.8" cy="1475.4" r="6.2"/><circle cx="1523.6" cy="1492.1" r="6.2"/><circle cx="1524.7" cy="1505.8" r="6.2"/><circle cx="1525.8" cy="1496.3" r="6.2"/><circle cx="1532.7" cy="1451.7" r="6.2"/><circle cx="1533.6" cy="1503.6" r="6.2"/><circle cx="1537.0" cy="1510.6" r="6.2"/><circle cx="1539.2" cy="1504.2" r="6.2"/><circle cx="1544.1" cy="1474.1" r="6.2"/><circle cx="1545.0" cy="1493.1" r="6.2"/><circle cx="1546.3" cy="1537.9" r="6.2"/><circle cx="1550.8" cy="1494.8" r="6.2"/><circle cx="1554.1" cy="1497.7" r="6.2"/><circle cx="1557.7" cy="1506.3" r="6.2"/><circle cx="1556.5" cy="1419.6" r="6.2"/><circle cx="1559.5" cy="1485.6" r="6.2"/><circle cx="1561.1" cy="1497.2" r="6.2"/><circle cx="1564.2" cy="1498.7" r="6.2"/><circle cx="1565.8" cy="1464.4" r="6.2"/><circle cx="1570.8" cy="1464.0" r="6.2"/><circle cx="1572.6" cy="1438.8" r="6.2"/><circle cx="1576.8" cy="1497.6" r="6.2"/><circle cx="1579.3" cy="1459.9" r="6.2"/><circle cx="1580.2" cy="1527.1" r="6.2"/><circle cx="1586.6" cy="1494.0" r="6.2"/><circle cx="1588.4" cy="1533.0" r="6.2"/><circle cx="1590.4" cy="1469.3" r="6.2"/><circle cx="1592.2" cy="1506.1" r="6.2"/><circle cx="1597.3" cy="1526.0" r="6.2"/><circle cx="1599.2" cy="1445.0" r="6.2"/><circle cx="1604.4" cy="1499.9" r="6.2"/><circle cx="1604.0" cy="1457.4" r="6.2"/><circle cx="1609.4" cy="1476.0" r="6.2"/><circle cx="1612.1" cy="1508.6" r="6.2"/><circle cx="1614.4" cy="1478.1" r="6.2"/><circle cx="1617.8" cy="1478.8" r="6.2"/><circle cx="1619.5" cy="1458.3" r="6.2"/><circle cx="1624.4" cy="1497.3" r="6.2"/><circle cx="1626.8" cy="1448.9" r="6.2"/><circle cx="1627.0" cy="1465.9" r="6.2"/><circle cx="1631.7" cy="1432.2" r="6.2"/><circle cx="1632.7" cy="1432.4" r="6.2"/><circle cx="1634.6" cy="1460.1" r="6.2"/><circle cx="1637.5" cy="1445.8" r="6.2"/><circle cx="1641.4" cy="1458.9" r="6.2"/><circle cx="1645.8" cy="1406.2" r="6.2"/><circle cx="1645.6" cy="1401.7" r="6.2"/><circle cx="1648.3" cy="1431.8" r="6.2"/><circle cx="1652.6" cy="1448.6" r="6.2"/><circle cx="1653.5" cy="1437.7" r="6.2"/><circle cx="1656.7" cy="1424.2" r="6.2"/><circle cx="1662.3" cy="1418.1" r="6.2"/><circle cx="1664.7" cy="1414.6" r="6.2"/><circle cx="1664.7" cy="1432.7" r="6.2"/><circle cx="1669.9" cy="1389.9" r="6.2"/><circle cx="1670.4" cy="1426.5" r="6.2"/><circle cx="1673.6" cy="1421.0" r="6.2"/><circle cx="1675.2" cy="1419.6" r="6.2"/><circle cx="1678.4" cy="1416.8" r="6.2"/><circle cx="1684.2" cy="1446.7" r="6.2"/><circle cx="1684.2" cy="1401.8" r="6.2"/><circle cx="1688.3" cy="1395.8" r="6.2"/><circle cx="1689.8" cy="1385.3" r="6.2"/><circle cx="1694.7" cy="1379.8" r="6.2"/><circle cx="1696.2" cy="1385.5" r="6.2"/><circle cx="1700.6" cy="1393.4" r="6.2"/><circle cx="1704.2" cy="1399.2" r="6.2"/><circle cx="1706.9" cy="1380.1" r="6.2"/><circle cx="1706.3" cy="1362.5" r="6.2"/><circle cx="1711.5" cy="1340.2" r="6.2"/><circle cx="1709.8" cy="1375.9" r="6.2"/><circle cx="1716.3" cy="1371.6" r="6.2"/><circle cx="1719.1" cy="1338.7" r="6.2"/><circle cx="1720.3" cy="1325.3" r="6.2"/><circle cx="1722.4" cy="1327.0" r="6.2"/><circle cx="1725.4" cy="1310.4" r="6.2"/><circle cx="1730.8" cy="1323.5" r="6.2"/><circle cx="1733.8" cy="1310.3" r="6.2"/><circle cx="1735.0" cy="1286.6" r="6.2"/><circle cx="1738.1" cy="1291.5" r="6.2"/><circle cx="1740.3" cy="1273.7" r="6.2"/><circle cx="1744.5" cy="1262.3" r="6.2"/><circle cx="1750.1" cy="1279.8" r="6.2"/><circle cx="1750.7" cy="1270.4" r="6.2"/><circle cx="1755.0" cy="1268.4" r="6.2"/><circle cx="1755.1" cy="1278.3" r="6.2"/><circle cx="1759.9" cy="1254.4" r="6.2"/><circle cx="1763.0" cy="1275.9" r="6.2"/><circle cx="1767.0" cy="1250.7" r="6.2"/><circle cx="1768.0" cy="1244.6" r="6.2"/><circle cx="1772.0" cy="1257.7" r="6.2"/><circle cx="1775.1" cy="1262.6" r="6.2"/><circle cx="1777.8" cy="1263.0" r="6.2"/><circle cx="1777.9" cy="1248.0" r="6.2"/><circle cx="1781.8" cy="1263.1" r="6.2"/><circle cx="1785.2" cy="1247.7" r="6.2"/><circle cx="1790.1" cy="1219.9" r="6.2"/><circle cx="1791.9" cy="1268.9" r="6.2"/><circle cx="1793.7" cy="1266.5" r="6.2"/><circle cx="1796.3" cy="1254.0" r="6.2"/><circle cx="1798.5" cy="1268.2" r="6.2"/><circle cx="1801.6" cy="1269.6" r="6.2"/><circle cx="1803.6" cy="1241.6" r="6.2"/><circle cx="1807.1" cy="1223.8" r="6.2"/><circle cx="1809.9" cy="1256.3" r="6.2"/><circle cx="1814.2" cy="1248.5" r="6.2"/><circle cx="1816.0" cy="1248.8" r="6.2"/><circle cx="1816.9" cy="1277.1" r="6.2"/><circle cx="1822.9" cy="1265.6" r="6.2"/><circle cx="1823.9" cy="1253.9" r="6.2"/><circle cx="1826.8" cy="1287.7" r="6.2"/><circle cx="1829.0" cy="1281.1" r="6.2"/><circle cx="1834.2" cy="1287.6" r="6.2"/><circle cx="1835.4" cy="1297.4" r="6.2"/><circle cx="1840.6" cy="1318.2" r="6.2"/><circle cx="1844.8" cy="1295.9" r="6.2"/><circle cx="1844.4" cy="1294.1" r="6.2"/><circle cx="1847.2" cy="1295.2" r="6.2"/><circle cx="1852.3" cy="1314.2" r="6.2"/><circle cx="1856.1" cy="1318.5" r="6.2"/><circle cx="1856.5" cy="1309.7" r="6.2"/><circle cx="1858.0" cy="1327.7" r="6.2"/><circle cx="1864.3" cy="1313.8" r="6.2"/><circle cx="1866.4" cy="1313.7" r="6.2"/><circle cx="1865.2" cy="1321.3" r="6.2"/><circle cx="1869.4" cy="1322.7" r="6.2"/><circle cx="1871.6" cy="1276.0" r="6.2"/><circle cx="1873.3" cy="1290.0" r="6.2"/><circle cx="1877.1" cy="1291.4" r="6.2"/><circle cx="1878.7" cy="1254.4" r="6.2"/><circle cx="1883.1" cy="1267.2" r="6.2"/><circle cx="1885.3" cy="1241.1" r="6.2"/><circle cx="1887.4" cy="1225.8" r="6.2"/><circle cx="1891.1" cy="1205.8" r="6.2"/><circle cx="1893.9" cy="1194.6" r="6.2"/><circle cx="1896.1" cy="1187.2" r="6.2"/><circle cx="1900.3" cy="1183.9" r="6.2"/><circle cx="1903.2" cy="1197.8" r="6.2"/><circle cx="1905.5" cy="1174.3" r="6.2"/><circle cx="1908.7" cy="1157.3" r="6.2"/><circle cx="1909.2" cy="1184.6" r="6.2"/><circle cx="1915.0" cy="1141.2" r="6.2"/><circle cx="1916.8" cy="1157.4" r="6.2"/><circle cx="1920.1" cy="1155.2" r="6.2"/><circle cx="1922.9" cy="1138.5" r="6.2"/><circle cx="1924.0" cy="1167.6" r="6.2"/><circle cx="1929.6" cy="1121.7" r="6.2"/><circle cx="1932.0" cy="1138.4" r="6.2"/><circle cx="1935.0" cy="1139.1" r="6.2"/><circle cx="1936.6" cy="1124.9" r="6.2"/><circle cx="1940.0" cy="1128.5" r="6.2"/><circle cx="1940.8" cy="1121.7" r="6.2"/><circle cx="1944.2" cy="1131.2" r="6.2"/><circle cx="1946.9" cy="1120.3" r="6.2"/><circle cx="1948.6" cy="1148.5" r="6.2"/><circle cx="1951.9" cy="1130.0" r="6.2"/><circle cx="1955.4" cy="1140.2" r="6.2"/><circle cx="1960.2" cy="1132.5" r="6.2"/><circle cx="1960.0" cy="1150.2" r="6.2"/><circle cx="1965.1" cy="1183.7" r="6.2"/><circle cx="1965.9" cy="1190.1" r="6.2"/><circle cx="1970.4" cy="1185.3" r="6.2"/><circle cx="1970.2" cy="1209.7" r="6.2"/><circle cx="1975.7" cy="1215.1" r="6.2"/><circle cx="1975.5" cy="1213.3" r="6.2"/><circle cx="1981.3" cy="1266.1" r="6.2"/><circle cx="1983.1" cy="1325.7" r="6.2"/><circle cx="1985.7" cy="1344.8" r="6.2"/><circle cx="1989.4" cy="1375.6" r="6.2"/><circle cx="1994.2" cy="1405.4" r="6.2"/><circle cx="1997.2" cy="1460.3" r="6.2"/><circle cx="1998.5" cy="1475.9" r="6.2"/><circle cx="1999.1" cy="1504.9" r="6.2"/><circle cx="2002.3" cy="1548.2" r="6.2"/><circle cx="2008.4" cy="1563.1" r="6.2"/><circle cx="2009.6" cy="1624.6" r="6.2"/><circle cx="2015.0" cy="1636.9" r="6.2"/><circle cx="2014.3" cy="1671.4" r="6.2"/><circle cx="2019.4" cy="1652.3" r="6.2"/><circle cx="2020.9" cy="1652.1" r="6.2"/><circle cx="2021.5" cy="1651.0" r="6.2"/><circle cx="2027.5" cy="1679.0" r="6.2"/><circle cx="2029.2" cy="1685.6" r="6.2"/><circle cx="2030.5" cy="1718.6" r="6.2"/><circle cx="2033.9" cy="1694.2" r="6.2"/><circle cx="2034.2" cy="1694.7" r="6.2"/><circle cx="2037.2" cy="1690.3" r="6.2"/><circle cx="2041.6" cy="1735.1" r="6.2"/><circle cx="2043.5" cy="1732.0" r="6.2"/><circle cx="2045.7" cy="1708.4" r="6.2"/><circle cx="2049.0" cy="1728.7" r="6.2"/><circle cx="2049.2" cy="1709.4" r="6.2"/><circle cx="2053.1" cy="1722.7" r="6.2"/><circle cx="2056.1" cy="1718.2" r="6.2"/><circle cx="2057.1" cy="1724.4" r="6.2"/><circle cx="2060.3" cy="1717.8" r="6.2"/><circle cx="2063.7" cy="1755.9" r="6.2"/><circle cx="2066.3" cy="1708.1" r="6.2"/><circle cx="2069.5" cy="1732.0" r="6.2"/><circle cx="2069.5" cy="1748.7" r="6.2"/><circle cx="2073.8" cy="1713.4" r="6.2"/><circle cx="2078.3" cy="1734.6" r="6.2"/><circle cx="2078.4" cy="1741.9" r="6.2"/><circle cx="2082.6" cy="1726.0" r="6.2"/><circle cx="2083.4" cy="1770.9" r="6.2"/><circle cx="2086.1" cy="1715.1" r="6.2"/><circle cx="2089.7" cy="1686.6" r="6.2"/><circle cx="2093.8" cy="1709.0" r="6.2"/><circle cx="2095.6" cy="1728.6" r="6.2"/><circle cx="2098.5" cy="1731.6" r="6.2"/><circle cx="2102.4" cy="1724.5" r="6.2"/><circle cx="2106.8" cy="1692.3" r="6.2"/><circle cx="2109.1" cy="1719.4" r="6.2"/><circle cx="2111.4" cy="1675.0" r="6.2"/><circle cx="2111.0" cy="1722.1" r="6.2"/><circle cx="2117.5" cy="1698.4" r="6.2"/><circle cx="2118.3" cy="1741.1" r="6.2"/><circle cx="2121.9" cy="1743.1" r="6.2"/><circle cx="2123.7" cy="1729.5" r="6.2"/><circle cx="2126.4" cy="1708.3" r="6.2"/><circle cx="2132.4" cy="1749.2" r="6.2"/><circle cx="2132.2" cy="1723.0" r="6.2"/><circle cx="2136.1" cy="1732.6" r="6.2"/><circle cx="2137.7" cy="1730.5" r="6.2"/><circle cx="2141.0" cy="1735.1" r="6.2"/><circle cx="2145.0" cy="1710.1" r="6.2"/><circle cx="2144.3" cy="1719.7" r="6.2"/><circle cx="2150.3" cy="1706.0" r="6.2"/><circle cx="2150.6" cy="1751.4" r="6.2"/><circle cx="2152.9" cy="1704.6" r="6.2"/><circle cx="2155.7" cy="1709.5" r="6.2"/><circle cx="2160.4" cy="1710.2" r="6.2"/><circle cx="2162.0" cy="1743.7" r="6.2"/><circle cx="2166.4" cy="1717.8" r="6.2"/><circle cx="2169.7" cy="1684.2" r="6.2"/><circle cx="2172.2" cy="1738.4" r="6.2"/><circle cx="2176.2" cy="1726.3" r="6.2"/><circle cx="2177.2" cy="1743.5" r="6.2"/><circle cx="2181.8" cy="1722.4" r="6.2"/><circle cx="2181.5" cy="1736.0" r="6.2"/><circle cx="2184.8" cy="1764.7" r="6.2"/><circle cx="2190.0" cy="1727.9" r="6.2"/><circle cx="2191.1" cy="1732.0" r="6.2"/><circle cx="2196.3" cy="1726.5" r="6.2"/><circle cx="2196.8" cy="1736.6" r="6.2"/><circle cx="2201.9" cy="1733.9" r="6.2"/><circle cx="2201.9" cy="1771.1" r="6.2"/><circle cx="2205.2" cy="1709.7" r="6.2"/><circle cx="2207.1" cy="1721.1" r="6.2"/><circle cx="2213.0" cy="1729.3" r="6.2"/><circle cx="2212.3" cy="1691.7" r="6.2"/><circle cx="2214.3" cy="1771.3" r="6.2"/><circle cx="2219.4" cy="1720.3" r="6.2"/><circle cx="2221.0" cy="1769.6" r="6.2"/><circle cx="2222.9" cy="1743.9" r="6.2"/><circle cx="2226.0" cy="1744.3" r="6.2"/><circle cx="2228.7" cy="1721.0" r="6.2"/><circle cx="2233.3" cy="1712.8" r="6.2"/><circle cx="2235.7" cy="1753.4" r="6.2"/><circle cx="2239.2" cy="1769.4" r="6.2"/><circle cx="2240.1" cy="1735.7" r="6.2"/><circle cx="2242.4" cy="1719.3" r="6.2"/><circle cx="2246.0" cy="1752.4" r="6.2"/><circle cx="2249.0" cy="1733.4" r="6.2"/><circle cx="2252.2" cy="1708.6" r="6.2"/><circle cx="2253.2" cy="1742.9" r="6.2"/><circle cx="2257.2" cy="1711.1" r="6.2"/><circle cx="2260.0" cy="1717.6" r="6.2"/><circle cx="2262.7" cy="1744.5" r="6.2"/><circle cx="2265.2" cy="1708.4" r="6.2"/></g>
<rect x="1394" y="1059" width="949.5" height="796.3" fill="none" stroke="#000" stroke-width="7"/>
<line x1="1522.7" y1="1855.3" x2="1522.7" y2="1870.8" stroke="#000" stroke-width="5"/>
<line x1="1738.6" y1="1855.3" x2="1738.6" y2="1870.8" stroke="#000" stroke-width="5"/>
<line x1="1954.4" y1="1855.3" x2="1954.4" y2="1870.8" stroke="#000" stroke-width="5"/>
<line x1="2170.2" y1="1855.3" x2="2170.2" y2="1870.8" stroke="#000" stroke-width="5"/>
<line x1="1414.8" y1="1855.3" x2="1414.8" y2="1863.8" stroke="#000" stroke-width="5"/>
<line x1="1630.6" y1="1855.3" x2="1630.6" y2="1863.8" stroke="#000" stroke-width="5"/>
<line x1="1846.5" y1="1855.3" x2="1846.5" y2="1863.8" stroke="#000" stroke-width="5"/>
<line x1="2062.3" y1="1855.3" x2="2062.3" y2="1863.8" stroke="#000" stroke-width="5"/>
<line x1="2278.2" y1="1855.3" x2="2278.2" y2="1863.8" stroke="#000" stroke-width="5"/>
<text x="1522.7" y="1922.5" font-size="54" font-weight="normal" text-anchor="middle" >175</text>
<text x="1738.6" y="1922.5" font-size="54" font-weight="normal" text-anchor="middle" >170</text>
<text x="1954.4" y="1922.5" font-size="54" font-weight="normal" text-anchor="middle" >165</text>
<text x="2170.2" y="1922.5" font-size="54" font-weight="normal" text-anchor="middle" >160</text>
<text x="1194.5" y="1128.5" font-size="90" font-weight="normal" text-anchor="start" >(D)</text>
<text transform="translate(1323.8,1626.4) rotate(-90)" font-size="69" font-weight="bold" stroke="#fff" stroke-width="1.6">Counts / a.u.</text>
<text x="1549.5" y="2024.2" font-size="69" font-weight="bold" text-anchor="start" stroke="#fff" stroke-width="1.6">Bingding Energy / eV</text>
<path d="M1819.9,1597.0 C1821.6,1597.5 1823.6,1597.3 1830.0,1600.0 C1836.4,1602.7 1849.0,1609.0 1858.5,1613.4 C1868.0,1617.8 1877.4,1621.2 1886.9,1626.6 C1896.4,1632.0 1905.9,1638.9 1915.4,1645.6 C1924.9,1652.2 1934.3,1659.5 1943.8,1666.5 C1953.3,1673.5 1964.4,1681.6 1972.3,1687.3 C1980.2,1693.0 1983.4,1697.2 1991.3,1700.6 C1999.2,1704.0 2006.6,1705.8 2019.7,1707.5 C2032.8,1709.2 2053.3,1709.8 2070.0,1710.5 C2086.7,1711.2 2111.7,1711.3 2120.0,1711.5" fill="none" stroke="#0a62cc" stroke-width="5.5" stroke-linejoin="round" stroke-linecap="round" />
<path d="M1484.8,1533.7 C1500.0,1533.9 1550.2,1533.8 1576.0,1534.7 C1601.8,1535.6 1621.9,1537.2 1639.6,1539.0 C1657.3,1540.8 1667.8,1542.8 1682.0,1545.3 C1696.2,1547.8 1713.9,1551.3 1724.5,1553.8 C1735.1,1556.3 1736.9,1556.7 1745.7,1560.2 C1754.5,1563.7 1766.9,1570.0 1777.5,1575.0 C1788.1,1580.0 1800.5,1586.4 1809.3,1589.9 C1818.0,1593.4 1825.2,1595.0 1830.0,1595.8 C1834.8,1596.6 1835.5,1595.9 1838.0,1595.0 C1840.5,1594.1 1841.5,1594.8 1845.2,1590.6 C1848.9,1586.4 1856.0,1579.5 1860.4,1569.7 C1864.8,1559.9 1868.2,1544.5 1871.7,1531.8 C1875.2,1519.1 1878.4,1507.1 1881.2,1493.8 C1884.0,1480.5 1886.4,1466.8 1888.8,1451.7 C1891.2,1436.6 1893.2,1419.2 1895.6,1402.9 C1898.0,1386.6 1900.8,1370.4 1903.4,1354.1 C1906.0,1337.8 1908.6,1321.6 1911.2,1305.3 C1913.8,1289.0 1916.2,1272.8 1919.1,1256.5 C1922.0,1240.2 1926.1,1219.0 1928.8,1207.6 C1931.5,1196.2 1932.7,1192.4 1935.0,1188.0 C1937.3,1183.6 1940.2,1181.3 1942.5,1181.3 C1944.8,1181.3 1946.7,1183.6 1949.0,1188.0 C1951.3,1192.4 1953.4,1196.2 1956.2,1207.6 C1959.0,1219.0 1963.0,1240.2 1965.9,1256.5 C1968.8,1272.8 1971.1,1289.0 1973.7,1305.3 C1976.3,1321.6 1979.0,1337.8 1981.5,1354.1 C1984.0,1370.4 1986.4,1386.6 1988.4,1402.9 C1990.4,1419.2 1991.2,1431.8 1993.3,1451.7 C1995.3,1471.6 1997.9,1499.5 2000.7,1522.3 C2003.5,1545.1 2007.0,1569.7 2010.2,1588.7 C2013.4,1607.7 2016.2,1621.9 2019.7,1636.1 C2023.2,1650.3 2027.0,1663.7 2031.1,1674.1 C2035.2,1684.5 2040.0,1693.0 2044.4,1698.7 C2048.8,1704.4 2053.4,1706.2 2057.7,1708.2 C2062.0,1710.2 2054.6,1710.5 2070.0,1711.0 C2085.4,1711.5 2117.7,1711.1 2150.0,1711.0 C2182.3,1710.9 2245.0,1710.5 2264.0,1710.4" fill="none" stroke="#b468d8" stroke-width="5.5" stroke-linejoin="round" stroke-linecap="round" />
<path d="M1826.2,1286.6 C1827.8,1291.5 1832.9,1305.4 1836.0,1316.0 C1839.1,1326.6 1841.8,1340.7 1845.0,1350.0 C1848.2,1359.3 1851.4,1367.1 1855.0,1372.0 C1858.6,1376.9 1863.5,1378.8 1866.8,1379.5 C1870.1,1380.2 1872.8,1377.6 1875.0,1376.0 C1877.2,1374.4 1877.9,1375.0 1880.0,1369.7 C1882.1,1364.4 1884.5,1355.0 1887.8,1344.3 C1891.0,1333.6 1895.9,1319.9 1899.5,1305.3 C1903.1,1290.7 1906.4,1272.8 1909.3,1256.5 C1912.2,1240.2 1914.2,1223.9 1917.1,1207.6 C1920.0,1191.3 1924.2,1170.1 1926.9,1158.8 C1929.6,1147.5 1930.9,1144.2 1933.0,1140.0 C1935.1,1135.8 1937.4,1133.4 1939.6,1133.4 C1941.8,1133.4 1943.6,1135.8 1946.0,1140.0 C1948.4,1144.2 1951.2,1147.5 1954.2,1158.8 C1957.2,1170.1 1961.1,1191.3 1964.0,1207.6 C1966.9,1223.9 1969.2,1240.2 1971.8,1256.5 C1974.4,1272.8 1977.2,1289.0 1979.6,1305.3 C1982.0,1321.6 1984.1,1337.8 1986.4,1354.1 C1988.7,1370.4 1991.5,1386.6 1993.3,1402.9 C1995.1,1419.2 1995.0,1431.8 1997.2,1451.7 C1999.4,1471.6 2003.0,1499.5 2006.4,1522.3 C2009.8,1545.1 2014.3,1569.7 2017.8,1588.7 C2021.3,1607.7 2023.5,1621.9 2027.3,1636.1 C2031.1,1650.3 2035.5,1664.6 2040.6,1674.1 C2045.7,1683.6 2052.8,1689.2 2057.7,1693.0 C2062.6,1696.8 2064.6,1695.7 2070.0,1696.8 C2075.4,1697.9 2083.3,1698.8 2090.0,1699.5 C2096.7,1700.2 2106.7,1700.8 2110.0,1701.0" fill="none" stroke="#ee3535" stroke-width="5.5" stroke-linejoin="round" stroke-linecap="round" />
<path d="M1484.8,1524.1 C1492.9,1523.6 1518.4,1521.9 1533.6,1521.0 C1548.8,1520.1 1561.9,1520.2 1576.0,1518.8 C1590.1,1517.4 1606.0,1515.1 1618.4,1512.5 C1630.8,1509.9 1641.4,1506.7 1650.2,1503.0 C1659.0,1499.3 1664.3,1495.5 1671.4,1490.2 C1678.5,1484.9 1685.5,1479.2 1692.6,1471.1 C1699.7,1463.0 1706.8,1453.8 1713.9,1441.4 C1721.0,1429.0 1727.9,1414.6 1735.0,1396.9 C1742.1,1379.2 1749.2,1355.2 1756.3,1335.4 C1763.4,1315.6 1772.2,1291.3 1777.5,1278.2 C1782.8,1265.1 1784.6,1261.8 1788.1,1257.0 C1791.6,1252.2 1794.5,1249.2 1798.7,1249.5 C1802.9,1249.8 1808.9,1252.9 1813.5,1259.1 C1818.1,1265.3 1822.0,1275.6 1826.2,1286.6 C1830.5,1297.5 1834.9,1309.2 1839.0,1324.8 C1843.1,1340.4 1846.7,1361.3 1850.9,1380.0 C1855.1,1398.7 1859.4,1419.5 1864.1,1436.9 C1868.8,1454.3 1874.5,1470.1 1879.3,1484.3 C1884.0,1498.5 1887.5,1509.6 1892.6,1522.3 C1897.7,1535.0 1903.4,1547.5 1909.7,1560.2 C1916.0,1572.9 1923.3,1585.6 1930.6,1598.2 C1937.9,1610.8 1945.4,1624.4 1953.3,1636.1 C1961.2,1647.8 1970.1,1660.2 1978.0,1668.4 C1985.9,1676.6 1990.6,1681.0 2000.7,1685.4 C2010.8,1689.8 2027.2,1692.7 2038.7,1694.9 C2050.2,1697.1 2056.4,1697.7 2070.0,1698.7 C2083.6,1699.7 2087.7,1700.1 2120.0,1701.0 C2152.3,1701.9 2240.0,1703.7 2264.0,1704.2" fill="none" stroke="#05996a" stroke-width="6" stroke-linejoin="round" stroke-linecap="round" />
<text x="2187.2" y="1168.0" font-size="78" font-weight="bold" text-anchor="start" >S</text>
<text x="2231.9" y="1184.2" font-size="52" font-weight="bold" text-anchor="start" >2p</text>
<text x="1516.4" y="1163.6" font-size="59" font-weight="bold" text-anchor="start" >168.7</text>
<text x="1432.5" y="1234.2" font-size="59" font-weight="bold" text-anchor="start" >S</text>
<text x="1466.4" y="1245.9" font-size="39" font-weight="bold" text-anchor="start" >2p3/2</text>
<text x="1572.3" y="1234.2" font-size="60" font-weight="bold" text-anchor="start" >C-S-C</text>
<text x="2087.9" y="1313.4" font-size="59" font-weight="bold" text-anchor="start" >165.2</text>
<text x="2004.1" y="1383.2" font-size="59" font-weight="bold" text-anchor="start" >S</text>
<text x="2037.9" y="1394.9" font-size="39" font-weight="bold" text-anchor="start" >2p1/2</text>
<text x="2142.3" y="1383.2" font-size="60" font-weight="bold" text-anchor="start" >C-S-C</text>
<line x1="1647.5" y1="1251.6" x2="1699.3" y2="1302.1" stroke="#000" stroke-width="4.3"/>
<polygon points="1717.9,1320.3 1688.2,1310.6 1707.5,1290.9" fill="#000"/>
<line x1="2078.5" y1="1250.5" x2="2025.2" y2="1226.5" stroke="#000" stroke-width="4.3"/>
<polygon points="2002.4,1216.3 2032.8,1214.6 2021.3,1240.1" fill="#000"/>
</svg></body></html>
